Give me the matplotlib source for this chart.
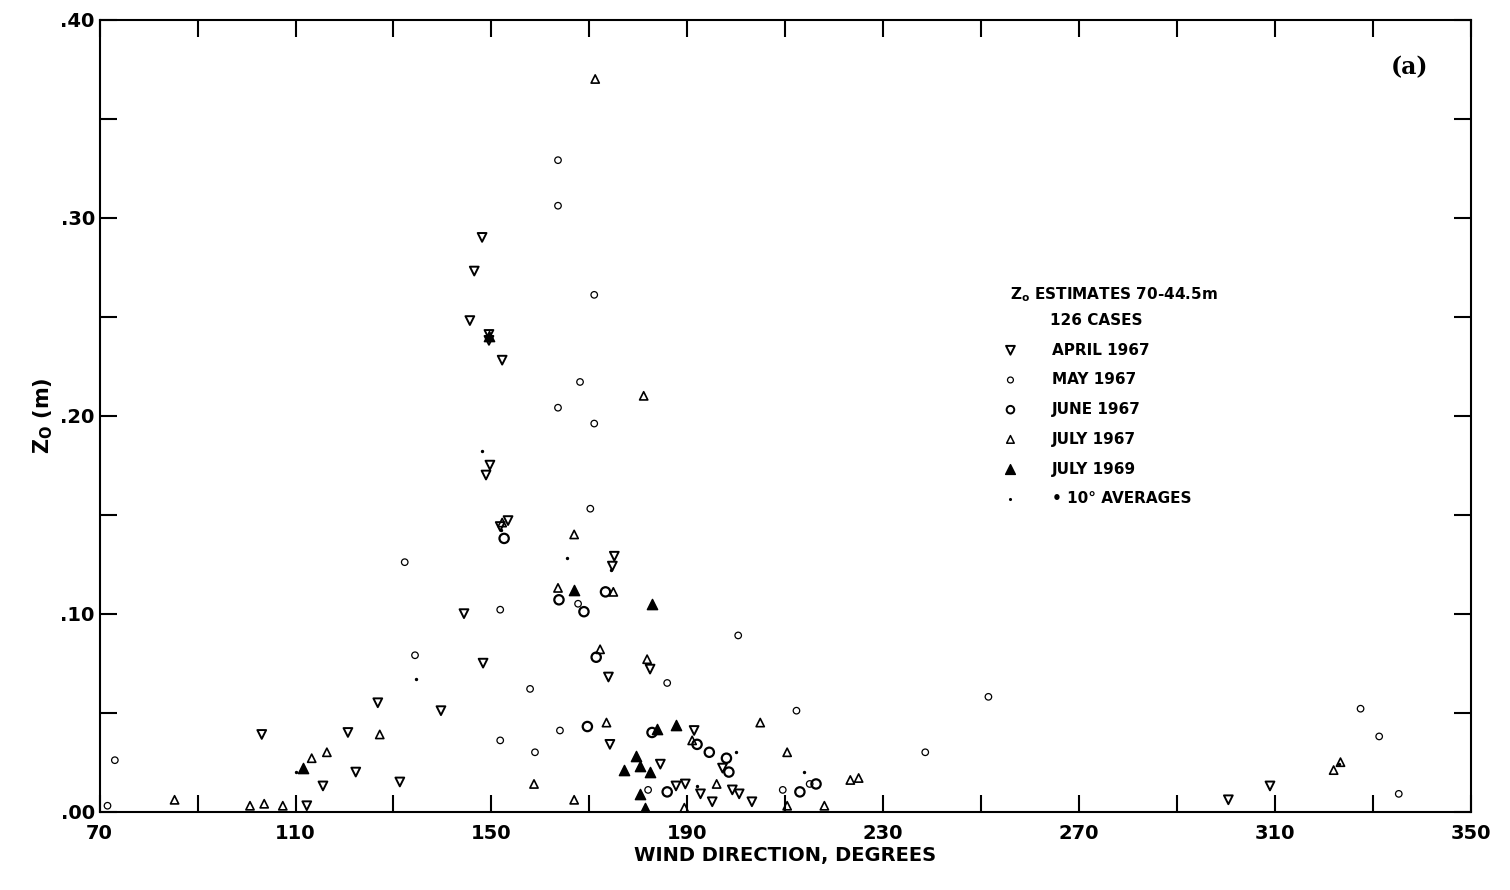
import matplotlib
matplotlib.use('Agg')
import matplotlib.pyplot as plt
from matplotlib.ticker import MultipleLocator, FixedLocator, FuncFormatter

# Z0 estimates by wind direction (deg, m)
april_dir = [148.1, 146.5, 145.6, 149.5, 149.5, 152.2, 148.9, 149.7, 153.4, 151.8, 144.4, 148.3,
             139.7, 126.8, 120.7, 103.1, 122.3, 131.3, 115.6, 112.3, 175.1, 174.7, 173.9, 182.4,
             174.2, 184.5, 191.4, 187.7, 189.6, 192.7, 197.2, 200.6, 203.2, 195.1, 199.2, 300.5, 309.0]
april_z0 = [0.290, 0.273, 0.248, 0.241, 0.238, 0.228, 0.170, 0.175, 0.147, 0.144, 0.100, 0.075,
            0.051, 0.055, 0.040, 0.039, 0.020, 0.015, 0.013, 0.003, 0.129, 0.124, 0.068, 0.072,
            0.034, 0.024, 0.041, 0.013, 0.014, 0.009, 0.022, 0.009, 0.005, 0.005, 0.011, 0.006, 0.013]

may_dir = [163.6, 163.6, 171.0, 168.1, 163.6, 171.0, 170.2, 132.3, 134.4, 151.8, 167.7, 157.9,
           151.8, 158.9, 164.0, 185.9, 200.4, 212.3, 251.5, 238.6, 73.1, 71.6, 327.5, 331.3, 335.3,
           209.5, 215.0, 182.0]
may_z0 = [0.329, 0.306, 0.261, 0.217, 0.204, 0.196, 0.153, 0.126, 0.079, 0.102, 0.105, 0.062,
          0.036, 0.030, 0.041, 0.065, 0.089, 0.051, 0.058, 0.030, 0.026, 0.003, 0.052, 0.038, 0.009,
          0.011, 0.014, 0.011]

june_dir = [152.6, 163.8, 168.9, 171.4, 169.6, 182.8, 194.5, 198.0, 216.3, 213.0, 185.9, 173.3,
            192.0, 198.5]
june_z0 = [0.138, 0.107, 0.101, 0.078, 0.043, 0.040, 0.030, 0.027, 0.014, 0.010, 0.010, 0.111,
           0.034, 0.020]

july67_dir = [171.2, 181.1, 166.9, 152.2, 163.6, 174.9, 172.2, 181.8, 173.5, 158.7, 166.9, 127.2,
              116.4, 113.3, 85.3, 100.7, 103.6, 107.4, 204.9, 210.4, 223.3, 218.0, 322.0, 323.4,
              191.0, 189.4, 196.0, 210.4, 225.0]
july67_z0 = [0.370, 0.210, 0.140, 0.146, 0.113, 0.111, 0.082, 0.077, 0.045, 0.014, 0.006, 0.039,
             0.030, 0.027, 0.006, 0.003, 0.004, 0.003, 0.045, 0.030, 0.016, 0.003, 0.021, 0.025,
             0.036, 0.002, 0.014, 0.003, 0.017]

july69_dir = [182.8, 183.8, 187.7, 180.4, 179.6, 177.1, 182.4, 180.4, 181.4, 111.5, 149.5, 166.9]
july69_z0 = [0.105, 0.042, 0.044, 0.023, 0.028, 0.021, 0.020, 0.009, 0.002, 0.022, 0.240, 0.112]

avg_dir = [148.1, 165.5, 134.6, 174.5, 200.0, 213.8, 323.0, 192.0, 110.0, 152.0]
avg_z0 = [0.182, 0.128, 0.067, 0.122, 0.030, 0.020, 0.024, 0.013, 0.020, 0.142]

legend_labels = ['APRIL 1967', 'MAY 1967', 'JUNE 1967', 'JULY 1967', 'JULY 1969', '• 10° AVERAGES']

plt.rcParams['font.family'] = ['DejaVu Sans']
fig = plt.figure(figsize=(15.1, 8.9), dpi=100)
ax = fig.add_axes([0.066, 0.088, 0.908, 0.89])

ax.scatter(april_dir, april_z0, marker='v', s=40, facecolors='none', edgecolors='black', linewidths=1.4)
ax.scatter(may_dir, may_z0, marker='o', s=22, facecolors='none', edgecolors='black', linewidths=0.9)
ax.scatter(june_dir, june_z0, marker='o', s=45, facecolors='none', edgecolors='black', linewidths=1.6)
ax.scatter(july67_dir, july67_z0, marker='^', s=35, facecolors='none', edgecolors='black', linewidths=1.2)
ax.scatter(july69_dir, july69_z0, marker='^', s=55, color='black')
ax.scatter(avg_dir, avg_z0, marker='.', s=8, color='black')

ax.set_xlim(70, 350)
ax.set_ylim(0, 0.40)
ax.xaxis.set_major_locator(FixedLocator(list(range(70, 351, 40))))
ax.xaxis.set_minor_locator(FixedLocator(list(range(90, 350, 40))))
ax.yaxis.set_major_locator(MultipleLocator(0.10))
ax.yaxis.set_minor_locator(MultipleLocator(0.05))
ax.yaxis.set_major_formatter(FuncFormatter(lambda v, p: ('%.2f' % v)[1:]))
ax.tick_params(axis='both', which='both', direction='in', top=True, right=True,
               labelsize=14, width=1.5)
ax.tick_params(which='major', length=12)
ax.tick_params(which='minor', length=12)
ax.tick_params(axis='x', pad=9)
for lab in ax.get_xticklabels() + ax.get_yticklabels():
    lab.set_fontweight('bold')
for sp in ax.spines.values():
    sp.set_linewidth(1.5)

ax.set_xlabel('WIND DIRECTION, DEGREES', fontsize=14, fontweight='bold', labelpad=2)
ax.set_ylabel('Z$_\\mathbf{O}$ (m)', fontsize=15, fontweight='bold')
ax.text(0.955, 0.94, '(a)', transform=ax.transAxes, fontsize=17, fontweight='bold',
        ha='center', va='center', family='DejaVu Serif')

# legend block
ax.text(256, 0.261, 'Z$_\\mathbf{o}$ ESTIMATES 70-44.5m', fontsize=11, fontweight='bold', va='center')
ax.text(264, 0.248, '126 CASES', fontsize=11, fontweight='bold', va='center')
leg_y = [0.233, 0.218, 0.203, 0.188, 0.173, 0.158]
styles = [dict(marker='v', s=40, facecolors='none', edgecolors='black', linewidths=1.4),
          dict(marker='o', s=18, facecolors='none', edgecolors='black', linewidths=0.9),
          dict(marker='o', s=30, facecolors='none', edgecolors='black', linewidths=1.4),
          dict(marker='^', s=30, facecolors='none', edgecolors='black', linewidths=1.1),
          dict(marker='^', s=50, color='black'),
          dict(marker='.', s=6, color='black')]
for yv, lab, st in zip(leg_y, legend_labels, styles):
    ax.scatter([256], [yv], **st)
    ax.text(264.5, yv, lab, fontsize=11, fontweight='bold', va='center')

fig.savefig('out.png', dpi=100)
